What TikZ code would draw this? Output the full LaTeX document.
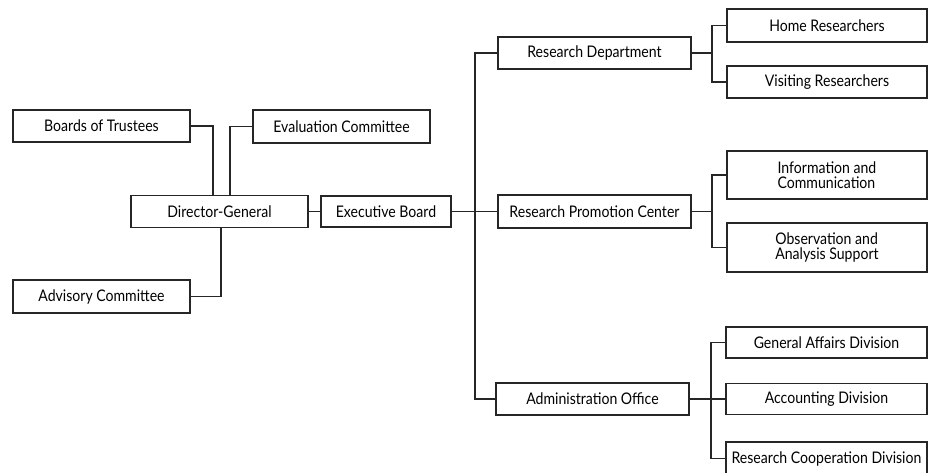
\documentclass[tikz,border=0pt]{standalone}
\usepackage{fontspec}
\setmainfont{Lato}[FakeStretch=0.88]
\begin{document}
\begin{tikzpicture}[x=1pt,y=-1pt,
  box/.style={draw=black!85,line width=1.3pt,rectangle,inner sep=0pt,minimum width=#1,align=center,font=\fontsize{16}{15}\selectfont},
  box/.default=177pt,
  conn/.style={draw=black!85,line width=1.4pt}]
\useasboundingbox (0,0) rectangle (929,473);
\clip (0,0) rectangle (929,473);
\node[box,minimum height=32pt] (bot) at (101.5,126) {Boards of Trustees};
\node[box,minimum height=33pt] (eval) at (341.5,126.5) {Evaluation Committee};
\node[box,minimum height=32pt] (dg) at (219.5,211.5) {Director-General};
\node[box=130pt,minimum height=31pt] (eb) at (386,211.5) {Executive Board};
\node[box,minimum height=33pt] (adv) at (101.5,296.5) {Advisory Committee};
\node[box=193pt,minimum height=32pt] (rd) at (594.5,53) {Research Department};
\node[box=193pt,minimum height=33pt] (rpc) at (594.5,211.5) {Research Promotion Center};
\node[box=193pt,minimum height=32pt] (ao) at (592.5,399) {Administration Office};
\node[box=200pt,minimum height=33pt] (home) at (827,25.5) {Home Researchers};
\node[box=200pt,minimum height=32pt] (vis) at (827,82) {Visiting Researchers};
\node[box=200pt,minimum height=48pt,align=left] (info) at (827,175) {Information and\\Communication};
\node[box=200pt,minimum height=49pt,align=left] (obs) at (827,247.5) {Observation and\\Analysis Support};
\node[box=201pt,minimum height=31pt] (gad) at (826.5,342.5) {General Affairs Division};
\node[box=201pt,minimum height=31pt] (acc) at (826.5,399) {Accounting Division};
\node[box=201pt,minimum height=33pt] (rcd) at (826.5,458.5) {Research Cooperation Division};
\coordinate (tk) at (475,0);
\coordinate (b1) at (712,0);
\coordinate (b2) at (712,0);
\coordinate (b3) at (711,0);
\draw[conn] (bot.east) -| ([xshift=-6.5pt]dg.north);
\draw[conn] (eval.west) -| ([xshift=10.5pt]dg.north);
\draw[conn] (adv.east) -| ([xshift=1.5pt]dg.south);
\draw[conn] (dg.east) -- (eb.west);
\draw[conn] (eb.east) -- (rpc.west);
\draw[conn] (rd.west) -| (tk |- ao.west) -- (ao.west);
\draw[conn] (rd.east) -- (b1 |- rd.east);
\draw[conn] (home.west) -| (b1 |- vis.west) -- (vis.west);
\draw[conn] (rpc.east) -- (b2 |- rpc.east);
\draw[conn] (info.west) -| (b2 |- obs.west) -- (obs.west);
\draw[conn] (ao.east) -- (acc.west);
\draw[conn] (gad.west) -| (b3 |- rcd.west) -- (rcd.west);
\end{tikzpicture}
\end{document}
